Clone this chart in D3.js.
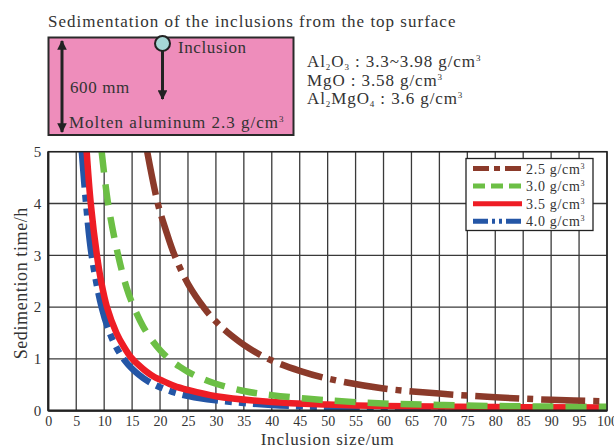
<!DOCTYPE html>
<html>
<head>
<meta charset="utf-8">
<script src="https://cdn.jsdelivr.net/npm/d3@7"></script>
<style>
  body { margin: 0; background: #fff; }
  svg text { font-family: "Liberation Serif", "DejaVu Serif", serif; fill: #333; }
</style>
</head>
<body>
<div id="chart"></div>
<script>
// values
var seriesNames = ["2.5 g/cm", "3.0 g/cm", "3.5 g/cm", "4.0 g/cm"];
var seriesColors = ["#8b3a2a", "#6cbf45", "#ee1d25", "#2456a6"];

var size25 = [17.7, 19.6, 21, 22.6, 25, 28, 30, 32, 36, 40, 45, 50, 60, 70, 80, 90, 100];
var time25 = [5.0, 4.0, 3.5, 3.0, 2.45, 1.97, 1.72, 1.52, 1.2, 0.97, 0.77, 0.62, 0.43, 0.33, 0.26, 0.21, 0.18];
var size30 = [9.55, 10.7, 12.5, 14, 15.3, 17, 18.5, 20, 21.6, 23.5, 25, 27.5, 30, 35, 40, 50, 60, 70, 80, 90, 100];
var time30 = [5.0, 4.0, 3.0, 2.38, 2.0, 1.62, 1.37, 1.17, 1.0, 0.85, 0.75, 0.62, 0.52, 0.38, 0.3, 0.2, 0.14, 0.11, 0.09, 0.08, 0.075];
var size35 = [6.87, 7.6, 8.7, 9.45, 10.5, 12.2, 13.5, 14.8, 16, 17.5, 19, 20, 22.5, 25, 30, 40, 50, 60, 80, 100];
var time35 = [5.0, 4.0, 3.0, 2.5, 2.0, 1.5, 1.24, 1.03, 0.9, 0.76, 0.65, 0.6, 0.48, 0.4, 0.28, 0.17, 0.12, 0.09, 0.07, 0.06];
var size40 = [6.0, 6.76, 7.76, 9.55, 11, 12, 13.2, 14.3, 15.5, 17, 18.5, 21, 23.6, 27, 30, 40, 50, 60, 80, 100];
var time40 = [5.0, 4.0, 3.0, 2.0, 1.5, 1.26, 1.04, 0.89, 0.76, 0.63, 0.53, 0.41, 0.32, 0.245, 0.2, 0.11, 0.07, 0.05, 0.03, 0.02];

var xTicks = d3.range(0, 101, 5);
var yTicks = [0, 1, 2, 3, 4, 5];

var W = 614, H = 448;
var svg = d3.select("#chart").append("svg").attr("width", W).attr("height", H);

// ---- schematic on top ----
var defs = svg.append("defs");
defs.append("marker").attr("id", "head")
    .attr("viewBox", "0 0 10 10").attr("refX", 9).attr("refY", 5)
    .attr("markerWidth", 3.2).attr("markerHeight", 3.2).attr("orient", "auto-start-reverse")
    .append("path").attr("d", "M0,0L10,5L0,10z").attr("fill", "#222");

svg.append("text").attr("x", 48).attr("y", 27).style("font-size", "17px")
    .style("letter-spacing", "1px")
    .text("Sedimentation of the inclusions from the top surface");

svg.append("rect").attr("x", 48.5).attr("y", 37.5).attr("width", 245).attr("height", 97.5)
    .attr("fill", "#ee8dbb").attr("stroke", "#2a2a2a").attr("stroke-width", 2);

svg.append("line").attr("x1", 62).attr("x2", 62).attr("y1", 41).attr("y2", 132)
    .attr("stroke", "#222").attr("stroke-width", 3)
    .attr("marker-start", "url(#head)").attr("marker-end", "url(#head)");

svg.append("line").attr("x1", 162.5).attr("x2", 162.5).attr("y1", 50).attr("y2", 99)
    .attr("stroke", "#222").attr("stroke-width", 3).attr("marker-end", "url(#head)");
svg.append("circle").attr("cx", 162.5).attr("cy", 43.5).attr("r", 7.5)
    .attr("fill", "#a6d8d6").attr("stroke", "#222").attr("stroke-width", 2);

svg.append("text").attr("x", 178).attr("y", 53).style("font-size", "17px")
    .style("letter-spacing", "0.6px").text("Inclusion");
svg.append("text").attr("x", 70).attr("y", 93).style("font-size", "17px")
    .style("letter-spacing", "0.6px").text("600 mm");
var molten = svg.append("text").attr("x", 69).attr("y", 128).style("font-size", "17px")
    .style("letter-spacing", "1px");
molten.append("tspan").text("Molten aluminum 2.3 g/cm");
molten.append("tspan").attr("dy", -6).style("font-size", "9px").text("3");

function formula(yy, parts) {
  var t = svg.append("text").attr("x", 307).attr("y", yy).style("font-size", "17px")
      .style("letter-spacing", "0.9px");
  parts.forEach(function (p) {
    if (p[1] === "sub") t.append("tspan").attr("dy", 3).style("font-size", "9px").text(p[0]);
    else if (p[1] === "sup") t.append("tspan").attr("dy", -6).style("font-size", "9px").text(p[0]);
    else t.append("tspan").attr("dy", p[1] || 0).text(p[0]);
  });
}
formula(67, [["Al"], ["2", "sub"], ["O", -3], ["3", "sub"], [" : 3.3~3.98 g/cm", -3], ["3", "sup"]]);
formula(86, [["MgO : 3.58 g/cm"], ["3", "sup"]]);
formula(104, [["Al"], ["2", "sub"], ["MgO", -3], ["4", "sub"], [" : 3.6 g/cm", -3], ["3", "sup"]]);

// ---- chart ----
var pL = 48.3, pR = 607, pT = 151.7, pB = 410.7;
var x = d3.scaleLinear().domain([0, 100]).range([pL, pR]);
var y = d3.scaleLinear().domain([0, 5]).range([pB, pT]);

var grid = svg.append("g");
grid.selectAll("line.v").data(xTicks).enter().append("line")
    .attr("x1", function (d) { return x(d); }).attr("x2", function (d) { return x(d); })
    .attr("y1", pT).attr("y2", pB)
    .attr("stroke", "#3a3a3a").attr("stroke-width", 1.3);
grid.selectAll("line.h").data(yTicks).enter().append("line")
    .attr("x1", pL).attr("x2", pR)
    .attr("y1", function (d) { return y(d); }).attr("y2", function (d) { return y(d); })
    .attr("stroke", "#3a3a3a").attr("stroke-width", 1.3);

defs.append("clipPath").attr("id", "plot")
    .append("rect").attr("x", pL).attr("y", pT).attr("width", pR - pL).attr("height", pB - pT);

var series = [
  { sx: size25, sy: time25, dash: "44,8,6,8", legDash: "16,5,6,5" },
  { sx: size30, sy: time30, dash: "21,12", legDash: "12,6" },
  { sx: size35, sy: time35, dash: null, legDash: null },
  { sx: size40, sy: time40, dash: "36,7,7,7,7,7", legDash: "15,4,3,4,3,4" }
];

var line = d3.line().curve(d3.curveCatmullRom.alpha(0.5))
    .x(function (d) { return x(d[0]); }).y(function (d) { return y(d[1]); });

var plot = svg.append("g").attr("clip-path", "url(#plot)");
[3, 2, 1, 0].forEach(function (i) {
  var s = series[i];
  plot.append("path").datum(d3.zip(s.sx, s.sy))
      .attr("d", line).attr("fill", "none")
      .attr("stroke", seriesColors[i]).attr("stroke-width", 6.5)
      .attr("stroke-dasharray", s.dash);
});

// frame
svg.append("rect").attr("x", pL).attr("y", pT).attr("width", pR - pL).attr("height", pB - pT)
    .attr("fill", "none").attr("stroke", "#222").attr("stroke-width", 1.5);
svg.append("line").attr("x1", pL).attr("x2", pR).attr("y1", pB).attr("y2", pB)
    .attr("stroke", "#222").attr("stroke-width", 2.2);
svg.append("line").attr("x1", pL).attr("x2", pL).attr("y1", pT).attr("y2", pB)
    .attr("stroke", "#222").attr("stroke-width", 2.2);

// axes labels
var xAxis = d3.axisBottom(x).tickValues(xTicks).tickFormat(d3.format("d")).tickSize(0).tickPadding(5);
var gx = svg.append("g").attr("transform", "translate(0," + pB + ")").call(xAxis);
gx.select(".domain").remove();
gx.selectAll("text").style("font-size", "14px").style("font-family", "Liberation Serif, serif").attr("fill", "#333");

var yAxis = d3.axisLeft(y).tickValues(yTicks).tickFormat(d3.format("d")).tickSize(0).tickPadding(7);
var gy = svg.append("g").attr("transform", "translate(" + pL + ",0)").call(yAxis);
gy.select(".domain").remove();
gy.selectAll("text").style("font-size", "15px").style("font-family", "Liberation Serif, serif").attr("fill", "#333");

svg.append("text").attr("x", x(50)).attr("y", 445).attr("text-anchor", "middle")
    .style("font-size", "17px").style("letter-spacing", "0.8px").text("Inclusion size/um");
svg.append("text").attr("transform", "translate(27," + ((pT + pB) / 2 + 2) + ") rotate(-90)")
    .attr("text-anchor", "middle").style("font-size", "18px").style("letter-spacing", "0.6px")
    .text("Sedimention time/h");

// legend
var lg = svg.append("g");
lg.append("rect").attr("x", 466).attr("y", 158.5).attr("width", 127).attr("height", 72)
    .attr("fill", "#fff").attr("stroke", "#222").attr("stroke-width", 1.3);
var rows = lg.selectAll("g.row").data(series).enter().append("g")
    .attr("transform", function (d, i) { return "translate(0," + (168.5 + i * 17.6) + ")"; });
rows.append("line").attr("x1", 473).attr("x2", 522)
    .attr("stroke", function (d, i) { return seriesColors[i]; })
    .attr("stroke-width", 5)
    .attr("stroke-dasharray", function (d) { return d.legDash; });
var lt = rows.append("text").attr("x", 526).attr("y", 5).style("font-size", "14px")
    .style("letter-spacing", "0.7px");
lt.append("tspan").text(function (d, i) { return seriesNames[i]; });
lt.append("tspan").attr("dy", -5).style("font-size", "8px").text("3");
</script>
</body>
</html>
